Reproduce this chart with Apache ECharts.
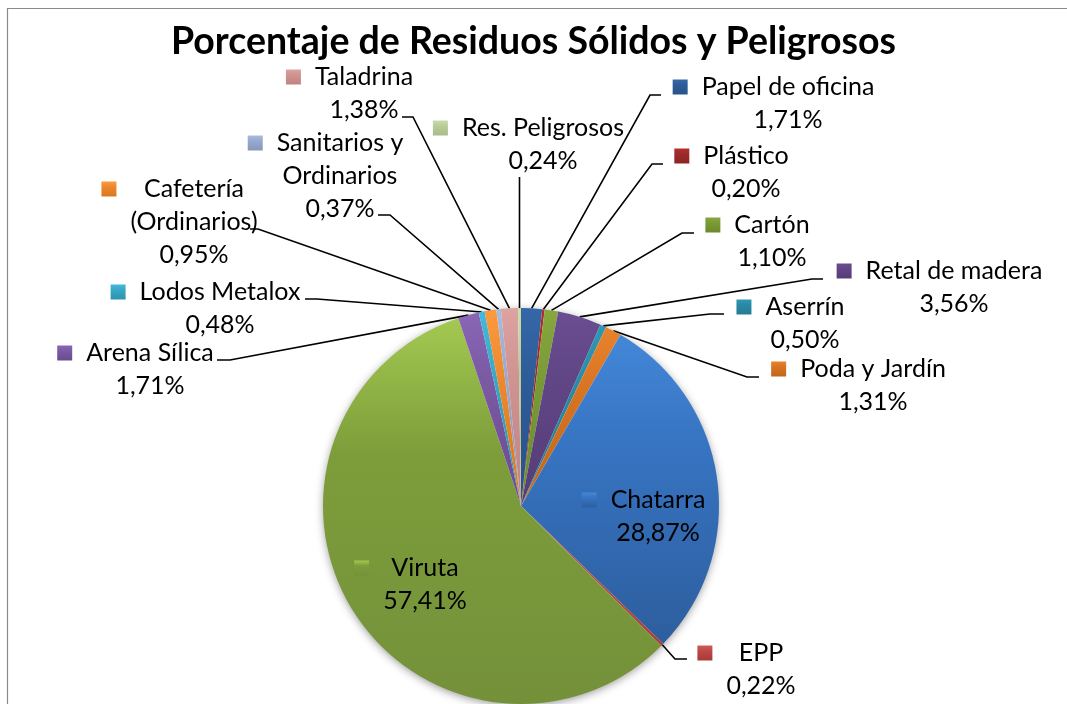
<!DOCTYPE html>
<html>
<head>
<meta charset="utf-8">
<script src="https://cdn.jsdelivr.net/npm/echarts@6/dist/echarts.min.js"></script>
<style>
  html, body { margin: 0; padding: 0; background: #fff; }
  #chart { width: 1067px; height: 704px; }
</style>
</head>
<body>
<div id="chart"></div>
<script>
// data, in the order the slices run clockwise from 12 o'clock
const categories = [
  'Papel de oficina', 'Plástico', 'Cartón', 'Retal de madera', 'Aserrín',
  'Poda y Jardín', 'Chatarra', 'EPP', 'Viruta', 'Arena Sílica',
  'Lodos Metalox', 'Cafetería (Ordinarios)', 'Sanitarios y Ordinarios',
  'Taladrina', 'Res. Peligrosos'
];
const percents = [1.71, 0.20, 1.10, 3.56, 0.50, 1.31, 28.87, 0.22, 57.41, 1.71, 0.48, 0.95, 0.37, 1.38, 0.24];

// styling: top / middle / bottom gradient colour per slice
const sliceColors = [
  ['#3567A8', '#2E5C98', '#28528A'], ['#B03030', '#9E2A2A', '#8C2424'], ['#86A83E', '#7A9A36', '#6B8A2E'],
  ['#6A4D92', '#604685', '#553D78'], ['#2E98B5', '#2A8AA5', '#237C94'], ['#E8822C', '#D87422', '#C2651A'],
  ['#4387D8', '#3774C2', '#2D5E9E'], ['#D05A56', '#BC4A47', '#A83A37'], ['#A3C951', '#7D9D3A', '#74913A'],
  ['#8A66B6', '#7A5AA3', '#6A4C90'], ['#42BADB', '#38A8C6', '#2C93AF'], ['#FB9A40', '#EC892E', '#DA771E'],
  ['#A8BCE0', '#98AACD', '#8797BA'], ['#DDA3A1', '#CF9391', '#C08381'], ['#CADDA8', '#BACC99', '#A9BB8A']
];

// label placement (Excel moved every label by hand): text column centre x,
// first line centre y, and the leader line bend points after the slice edge
const labelPos = [
  { cx: 788, y1: 87, line: [[650, 95], [661, 95]] },
  { cx: 746, y1: 156, line: [[652, 164], [663, 164]] },
  { cx: 772, y1: 225, line: [[682, 233], [694, 233]] },
  { cx: 954, y1: 271, line: [[812, 279], [823, 279]] },
  { cx: 805, y1: 307, line: [[710, 314], [724, 314]] },
  { cx: 873, y1: 369, line: [[747, 377], [759, 377]] },
  { cx: 658, y1: 500, line: null },
  { cx: 761, y1: 653, line: [[675, 659], [687, 659]] },
  { cx: 425, y1: 568, line: null },
  { cx: 150, y1: 353, line: [[230, 360], [217, 360]] },
  { cx: 220, y1: 292, line: [[317, 299], [305, 299]] },
  { cx: 194, y1: 189, line: [[258, 229], [250, 229]] },
  { cx: 340, y1: 143, line: [[390, 215], [378, 215]] },
  { cx: 364, y1: 77, line: [[413, 117], [402, 117]] },
  { cx: 543, y1: 128, line: [[519.5, 177]] }
];
const wrapped = { 11: ['Cafetería', '(Ordinarios)'], 12: ['Sanitarios y', 'Ordinarios'] };

const PIE_CX = 521, PIE_CY = 506, PIE_R = 198;
const FONT = 'Lato';
const KEY_W = 29; // legend key + gap in front of the text column

function grad(c) {
  return new echarts.graphic.LinearGradient(0, 0, 0, 1, [
    { offset: 0, color: c[0] }, { offset: 0.35, color: c[1] }, { offset: 1, color: c[2] }
  ]);
}

function fmt(v) {
  return v.toFixed(2).replace('.', ',') + '%';
}

const rich = {
  sp: { width: 14, height: 15, align: 'left' },
  gap: { width: KEY_W, height: 15, align: 'left' },
  t: { fontFamily: FONT, fontSize: 25, lineHeight: 33, color: '#000', align: 'center' }
};
sliceColors.forEach((c, i) => {
  rich['sq' + i] = { width: 15, height: 15, align: 'left', backgroundColor: grad(c) };
});

const seriesData = categories.map((name, i) => {
  const item = { name: name, value: percents[i], itemStyle: { color: grad(sliceColors[i]) } };
  if (!labelPos[i].line) item.labelLine = { show: false };
  return item;
});

const chart = echarts.init(document.getElementById('chart'));
chart.setOption({
  animation: false,
  title: {
    text: 'Porcentaje de Residuos Sólidos y Peligrosos',
    left: 'center',
    top: 18,
    textStyle: { fontFamily: FONT, fontSize: 37.5, fontWeight: 'bold', color: '#000' }
  },
  graphic: [
    {
      type: 'rect', z: 0, silent: true,
      shape: { x: 7.5, y: 8.5, width: 1100, height: 720 },
      style: { fill: 'none', stroke: '#8a8a8a', lineWidth: 1.2 }
    },
    {
      type: 'circle', z: 0, silent: true,
      shape: { cx: PIE_CX, cy: PIE_CY, r: PIE_R - 1 },
      style: { fill: '#fff', shadowBlur: 10, shadowColor: 'rgba(0,0,0,0.45)', shadowOffsetY: 2 }
    }
  ],
  series: [{
    type: 'pie',
    center: [PIE_CX, PIE_CY],
    radius: PIE_R,
    startAngle: 90,
    clockwise: true,
    avoidLabelOverlap: false,
    itemStyle: { borderWidth: 0 },
    label: {
      show: true,
      position: 'outside',
      formatter: p => {
        const lines = (wrapped[p.dataIndex] || [p.name]).map((txt, i) =>
          (i === 0 ? '{sq' + p.dataIndex + '|}{sp|}' : '{gap|}') + '{t|' + txt + '}');
        lines.push('{gap|}{t|' + fmt(p.value) + '}');
        return lines.join('\n');
      },
      rich: rich
    },
    labelLine: { show: true, lineStyle: { color: '#000', width: 1.6 } },
    labelLayout: p => {
      const L = labelPos[p.dataIndex];
      const out = {
        x: L.cx - (p.labelRect.width + KEY_W) / 2,
        y: L.y1 - 16.5,
        align: 'left',
        verticalAlign: 'top'
      };
      if (L.line && p.labelLinePoints) {
        const s = p.labelLinePoints[0];
        out.labelLinePoints = [[s[0], s[1]]].concat(L.line);
      }
      return out;
    },
    data: seriesData
  }]
});
</script>
</body>
</html>
